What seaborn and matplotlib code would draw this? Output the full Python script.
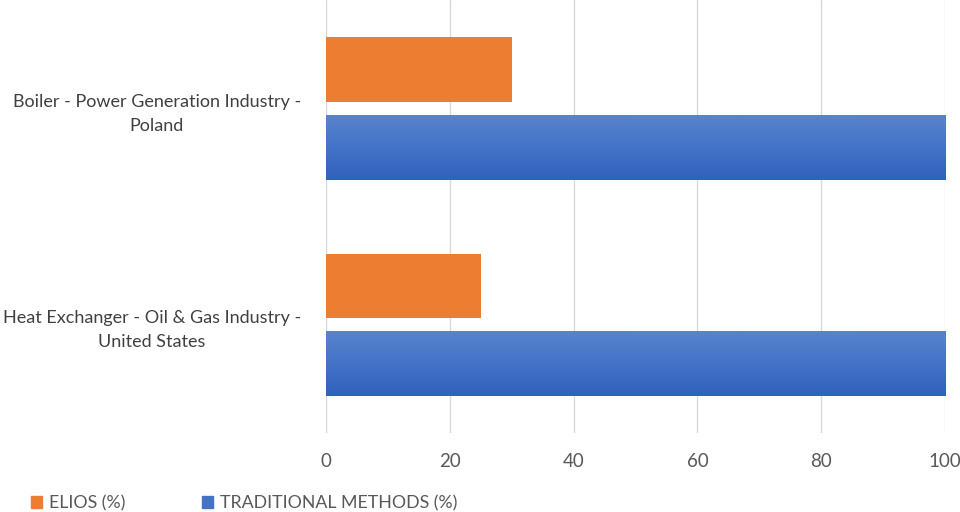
import numpy as np
import pandas as pd
import matplotlib
matplotlib.use("Agg")
import matplotlib.pyplot as plt
import seaborn as sns

categories = ["Boiler - Power Generation Industry -\nPoland",
              "Heat Exchanger - Oil & Gas Industry -\nUnited States"]
series = ["ELIOS (%)", "TRADITIONAL METHODS (%)"]
elios = [30, 25]
traditional = [100, 100]
x_ticks = [0, 20, 40, 60, 80, 100]

df = pd.DataFrame({
    "category": categories * 2,
    "series": [series[0]] * 2 + [series[1]] * 2,
    "value": elios + traditional,
})

sns.set_theme(style="white")
plt.rcParams["font.family"] = ["Lato", "DejaVu Sans"]

fig = plt.figure(figsize=(9.6, 5.12), dpi=100)
ax = fig.add_axes([0.3396, 0.154, 0.6448, 0.846])

palette = {series[0]: "#ED7D31", series[1]: "#4472C4"}
sns.barplot(data=df, x="value", y="category", hue="series", orient="h",
            palette=palette, width=0.72, gap=0.17, saturation=1,
            linewidth=0, legend=False, ax=ax, zorder=3)

# blue bars get the soft vertical gradient of the original
grad = np.linspace(0, 1, 64).reshape(-1, 1)
cmap = matplotlib.colors.LinearSegmentedColormap.from_list("b", ["#5983D0", "#2F62BC"])
for patch in ax.patches:
    if matplotlib.colors.to_hex(patch.get_facecolor()) == "#4472c4":
        x0, y0 = patch.get_x(), patch.get_y()
        w, h = patch.get_width(), patch.get_height()
        im = ax.imshow(grad, cmap=cmap, aspect="auto", extent=[x0, x0 + w, y0 + h, y0],
                       zorder=4)
        im.set_clip_path(patch)

ax.set_xlim(0, 100)
ax.set_ylim(1.5, -0.5)
ax.set_xticks(x_ticks)
ax.xaxis.grid(True, color="#D9D9D9", linewidth=1, zorder=0)
ax.set_axisbelow(True)
for s in ax.spines.values():
    s.set_visible(False)
ax.set_xlabel("")
ax.set_ylabel("")
ax.tick_params(axis="x", colors="#595959", labelsize=13.5, length=0, pad=14)
ax.tick_params(axis="y", colors="#404040", labelsize=13, length=0, pad=18)
for lbl in ax.get_yticklabels():
    lbl.set_multialignment("center")
    lbl.set_linespacing(1.6)

handles = [matplotlib.patches.Patch(color=palette[s]) for s in series]
fig.legend(handles, series, loc="lower left", bbox_to_anchor=(0.016, -0.03), ncol=2,
           frameon=False, fontsize=12.8, handlelength=0.6, handleheight=0.6,
           handletextpad=0.4, columnspacing=4.3, labelcolor="#595959")

fig.savefig("out.png", dpi=100, facecolor="white")
